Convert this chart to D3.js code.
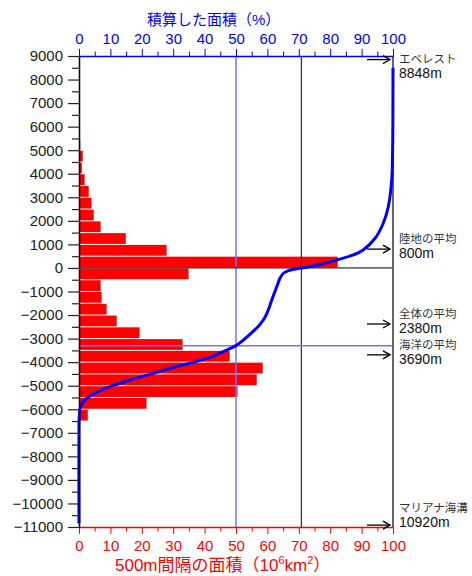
<!DOCTYPE html>
<html>
<head>
<meta charset="utf-8">
<script src="https://cdn.jsdelivr.net/npm/d3@7"></script>
<style>
  body { margin: 0; background: #fff; }
  svg text { font-family: "Liberation Sans", Arial, "Noto Sans CJK JP", sans-serif; }
</style>
</head>
<body>
<svg id="chart" width="472" height="576"></svg>
<script>
// 500m bins: lower edge of each bin (m) and area in that bin (10^6 km2)
var binLower = [8500, 8000, 7500, 7000, 6500, 6000, 5500, 5000, 4500, 4000,
  3500, 3000, 2500, 2000, 1500, 1000, 500, 0,
  -500, -1000, -1500, -2000, -2500, -3000, -3500, -4000, -4500, -5000,
  -5500, -6000, -6500, -7000, -7500, -8000, -8500, -9000, -9500, -10000,
  -10500, -11000];
var binArea = [0, 0.02, 0.03, 0.05, 0.08, 0.12, 0.2, 0.4, 1.2, 0.9,
  1.8, 3.1, 4.0, 4.7, 6.9, 14.9, 27.9, 82.4,
  34.9, 6.9, 7.2, 8.8, 12.0, 19.3, 33.0, 48.0, 58.5, 56.6,
  50.5, 21.5, 2.8, 0.3, 0.15, 0.1, 0.06, 0.04, 0.03, 0.02,
  0.01, 0.005];

// cumulative (hypsographic) curve
var curveElev = [8500, 6000, 4800, 3740, 2600, 1900, 1260, 764, 552, 340, 160, 0,
  -113, -225, -437, -793, -1360, -1780, -2100, -2450, -2800, -3100, -3310, -3550, -3840,
  -4190, -4470, -4760, -5040, -5320, -5600, -5890, -6310, -6700, -10850];
var curvePct = [100, 99.95, 99.85, 99.6, 98.5, 96.9, 94.3, 90.5, 87.4, 82.1, 77.3, 70.9,
  66.7, 65.1, 64.0, 63.0, 61.4, 60.3, 59.2, 57.3, 54.6, 52.0, 49.8, 46.0, 40.7,
  31.0, 23.7, 16.2, 9.9, 5.1, 1.9, 0.5, 0.1, 0, 0];

// reference marks
var oceanPct = 70.8;
var medianElev = -3300;
var markElev = [8848, 800, -2380, -3690, -10920];
var markName = ['エベレスト', '陸地の平均', '全体の平均', '海洋の平均', 'マリアナ海溝'];
var markValue = ['8848m', '800m', '2380m', '3690m', '10920m'];

var svg = d3.select('#chart');
var x = d3.scaleLinear().domain([0, 100]).range([79, 393]);
var y = d3.scaleLinear().domain([-11000, 9000]).range([527, 56]);

var bins = binLower.map(function(d, i){ return {lo: d, area: binArea[i]}; })
  .filter(function(d){ return d.lo >= -11000 && d.lo < 9000; });

// bars
svg.append('g').selectAll('rect')
  .data(bins)
  .enter().append('rect')
  .attr('x', x(0))
  .attr('y', function(d){ return y(d.lo + 500) + 0.5; })
  .attr('width', function(d){ return x(d.area) - x(0); })
  .attr('height', function(d){ return y(d.lo) - y(d.lo + 500) - 1; })
  .attr('fill', '#ff0000');

// guide lines
svg.append('line')
  .attr('x1', x(50)).attr('x2', x(50)).attr('y1', y(9000)).attr('y2', y(-11000))
  .attr('stroke', '#7373ff').attr('stroke-width', 1.5);
svg.append('line')
  .attr('x1', x(oceanPct)).attr('x2', x(oceanPct)).attr('y1', y(9000)).attr('y2', y(-11000))
  .attr('stroke', '#000').attr('stroke-width', 1);
svg.append('line')
  .attr('x1', x(0)).attr('x2', x(100)).attr('y1', y(0)).attr('y2', y(0))
  .attr('stroke', '#000').attr('stroke-width', 1);
svg.append('line')
  .attr('x1', x(0)).attr('x2', x(100)).attr('y1', y(medianElev)).attr('y2', y(medianElev))
  .attr('stroke', '#7373ff').attr('stroke-width', 1.5);
svg.append('line')
  .attr('x1', x(100)).attr('x2', x(100)).attr('y1', y(9000)).attr('y2', y(-11000))
  .attr('stroke', '#666').attr('stroke-width', 2);

// cumulative curve
var pts = curveElev.map(function(d, i){ return [curvePct[i], d]; });
var hypso = d3.line()
  .x(function(d){ return x(d[0]); })
  .y(function(d){ return y(d[1]); })
  .curve(d3.curveCatmullRom.alpha(0.5));
svg.append('path')
  .datum(pts)
  .attr('d', hypso)
  .attr('fill', 'none')
  .attr('stroke', '#0000ff')
  .attr('stroke-width', 3);

// axes
var fmtPct = function(d){ return d % 10 === 0 ? d : ''; };

function stylePctAxis(g, color, dir){
  g.select('.domain').attr('stroke', color).attr('stroke-width', 1.5);
  g.selectAll('.tick line').attr('stroke', color).attr('stroke-width', 1)
    .attr('y2', function(d){ return dir * (d % 10 === 0 ? 7 : 4.5); });
  g.selectAll('.tick text').attr('fill', color).style('font-size', '15px');
}

var topAxis = svg.append('g').attr('transform', 'translate(0,' + y(9000) + ')')
  .call(d3.axisTop(x).tickValues(d3.range(0, 101, 5)).tickFormat(fmtPct).tickSize(7).tickSizeOuter(0).tickPadding(5));
stylePctAxis(topAxis, '#0000ff', -1);

var bottomAxis = svg.append('g').attr('transform', 'translate(0,' + y(-11000) + ')')
  .call(d3.axisBottom(x).tickValues(d3.range(0, 101, 5)).tickFormat(fmtPct).tickSize(7).tickSizeOuter(0).tickPadding(6));
stylePctAxis(bottomAxis, '#ff0000', 1);

var leftAxis = svg.append('g').attr('transform', 'translate(' + x(0) + ',0)')
  .call(d3.axisLeft(y).tickValues(d3.range(-11000, 9001, 500))
    .tickFormat(function(d){ return d % 1000 === 0 ? d3.format('d')(d) : ''; })
    .tickSize(11).tickSizeOuter(0).tickPadding(5));
leftAxis.select('.domain').attr('stroke', '#000').attr('stroke-width', 1.5);
leftAxis.selectAll('.tick line').attr('stroke', '#222').attr('stroke-width', 1.2)
  .attr('x2', function(d){ return d % 1000 === 0 ? -11 : -7; });
leftAxis.selectAll('.tick text').attr('fill', '#222').style('font-size', '15px');

// titles
svg.append('text')
  .attr('x', 147).attr('y', 25)
  .attr('fill', '#0000ff').style('font-size', '15px')
  .text('積算した面積（%）');

var bt = svg.append('text')
  .attr('x', 115).attr('y', 571)
  .attr('fill', '#ff0000').style('font-size', '17px');
bt.append('tspan').text('500m間隔の面積（10');
bt.append('tspan').attr('dy', -7).style('font-size', '11px').text('6');
bt.append('tspan').attr('dy', 7).text('km');
bt.append('tspan').attr('dy', -7).style('font-size', '11px').text('2');
bt.append('tspan').attr('dy', 7).text('）');

// arrows and labels
var lineOffset = function(i){
  if (i === 0) return 3;
  if (i === markElev.length - 1) return -13;
  return -6;
};
markElev.forEach(function(e, i){
  var ay = y(e);
  var g = svg.append('g');
  g.append('line')
    .attr('x1', 367).attr('x2', 390).attr('y1', ay).attr('y2', ay)
    .attr('stroke', '#000').attr('stroke-width', 1.3);
  g.append('path')
    .attr('d', 'M' + 383 + ',' + (ay - 4) + 'L' + 390 + ',' + ay + 'L' + 383 + ',' + (ay + 4))
    .attr('fill', 'none').attr('stroke', '#000').attr('stroke-width', 1.3);
  g.append('text')
    .attr('x', 399).attr('y', ay + lineOffset(i))
    .attr('fill', '#333').style('font-size', '11.5px')
    .text(markName[i]);
  g.append('text')
    .attr('x', 399).attr('y', ay + lineOffset(i) + 15)
    .attr('fill', '#111').style('font-size', '14px')
    .text(markValue[i]);
});
</script>
</body>
</html>
